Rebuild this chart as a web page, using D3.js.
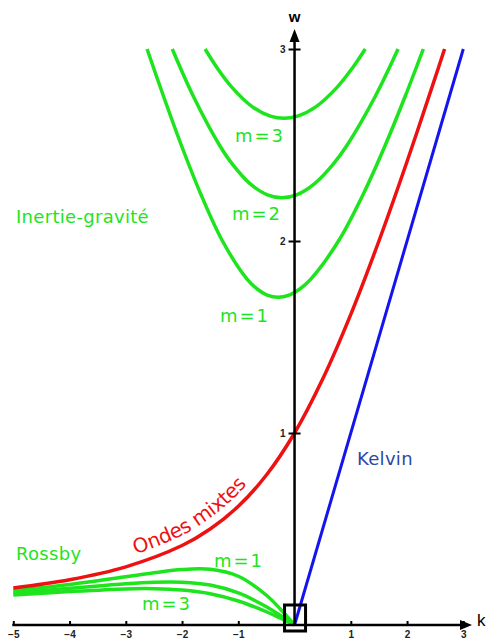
<!DOCTYPE html>
<html>
<head>
<meta charset="utf-8">
<script src="https://cdn.jsdelivr.net/npm/d3@7"></script>
<style>
  body { margin: 0; background: #fff; }
  .tick text { font-family: "Liberation Sans", Arial, sans-serif; font-weight: bold; font-size: 10px; fill: #222; }
  .lbl { font-family: "DejaVu Sans", sans-serif; font-size: 18px; }
</style>
</head>
<body>
<div id="chart"></div>
<script>
// values, as [k, w] pairs
let kelvin = [[0, 0], [3, 3]];

let mixed = [[-5, 0.193], [-4, 0.236], [-3, 0.303], [-2, 0.414], [-1.5, 0.5], [-1, 0.618],
    [-0.5, 0.781], [0, 1], [0.5, 1.281], [1, 1.618], [1.5, 2.0], [2, 2.414], [2.5, 2.851], [2.667, 3]];

let gravity1 = [[-2.622, 3], [-2.325, 2.75], [-2.014, 2.5], [-1.675, 2.25], [-1.281, 2.0], [-0.841, 1.8],
    [-0.665, 1.75], [-0.498, 1.72], [-0.293, 1.707], [-0.084, 1.72], [0.094, 1.75], [0.285, 1.8],
    [0.781, 2.0], [1.231, 2.25], [1.614, 2.5], [1.962, 2.75], [2.289, 3]];
let gravity2 = [[-2.174, 3], [-1.793, 2.75], [-1.336, 2.5], [-1.105, 2.4], [-0.798, 2.3], [-0.483, 2.24],
    [-0.225, 2.225], [0.036, 2.24], [0.363, 2.3], [0.688, 2.4], [0.936, 2.5], [1.429, 2.75], [1.84, 3]];
let gravity3 = [[-1.591, 3], [-1.372, 2.9], [-1.112, 2.8], [-0.755, 2.7], [-0.43, 2.65], [-0.19, 2.639],
    [0.052, 2.65], [0.384, 2.7], [0.755, 2.8], [1.027, 2.9], [1.257, 3]];

let rossby1 = [[-5, 0.179], [-4, 0.211], [-3, 0.251], [-2.5, 0.272], [-2, 0.289], [-1.5, 0.29],
    [-1, 0.254], [-0.5, 0.155], [-0.25, 0.082], [0, 0]];
let rossby2 = [[-5, 0.167], [-4, 0.191], [-3, 0.215], [-2.5, 0.223], [-2, 0.223], [-1.5, 0.208],
    [-1, 0.167], [-0.5, 0.095], [-0.25, 0.049], [0, 0]];
let rossby3 = [[-5, 0.156], [-4, 0.174], [-3, 0.188], [-2.5, 0.189], [-2, 0.182], [-1.5, 0.163],
    [-1, 0.125], [-0.5, 0.069], [-0.25, 0.035], [0, 0]];

let xTicks = [-5, -4, -3, -2, -1, 1, 2, 3];
let yTicks = [1, 2, 3];

let width = 489, height = 641;
let green = "#1ee41e", red = "#ee1111", blue = "#1414ee";

let x = d3.scaleLinear().domain([-5, 3]).range([13.3, 463.3]);
let y = d3.scaleLinear().domain([0, 3]).range([625, 49]);

let svg = d3.select("#chart").append("svg")
    .attr("width", width)
    .attr("height", height);

let line = d3.line()
    .x(function (d) { return x(d[0]); })
    .y(function (d) { return y(d[1]); })
    .curve(d3.curveCatmullRom.alpha(0.5));

// green curves (inertie-gravite + rossby)
[gravity1, gravity2, gravity3, rossby1, rossby2, rossby3].forEach(function (c) {
    svg.append("path").attr("d", line(c))
        .attr("fill", "none").attr("stroke", green).attr("stroke-width", 3.5);
});

let mixedPath = svg.append("path").attr("id", "mixed").attr("d", line(mixed))
    .attr("fill", "none").attr("stroke", red).attr("stroke-width", 3.5);

svg.append("path").attr("d", d3.line().x(d => x(d[0])).y(d => y(d[1]))(kelvin))
    .attr("fill", "none").attr("stroke", blue).attr("stroke-width", 3);

// axes
let xAxis = svg.append("g")
    .attr("transform", "translate(0," + y(0) + ")")
    .call(d3.axisBottom(x).tickValues(xTicks).tickSize(-4).tickPadding(6).tickFormat(d3.format("d")));
xAxis.select(".domain").remove();
xAxis.selectAll("line").attr("stroke", "#000").attr("stroke-width", 2);

let yAxis = svg.append("g")
    .attr("transform", "translate(" + x(0) + ",0)")
    .call(d3.axisLeft(y).tickValues(yTicks).tickSize(6).tickPadding(3).tickFormat(d3.format("d")));
yAxis.select(".domain").remove();
yAxis.selectAll("line").attr("x1", 6).attr("x2", -6).attr("stroke", "#000").attr("stroke-width", 2);

svg.append("line").attr("x1", x(-5) - 1).attr("x2", 462).attr("y1", y(0)).attr("y2", y(0))
    .attr("stroke", "#000").attr("stroke-width", 2.5);
svg.append("path").attr("d", "M472," + y(0) + "L460," + (y(0) - 5) + "L460," + (y(0) + 5) + "Z").attr("fill", "#000");

svg.append("line").attr("x1", x(0)).attr("x2", x(0)).attr("y1", y(0)).attr("y2", 40)
    .attr("stroke", "#000").attr("stroke-width", 2.5);
svg.append("path").attr("d", "M" + x(0) + ",29L" + (x(0) - 5) + ",42L" + (x(0) + 5) + ",42Z").attr("fill", "#000");

svg.append("text").attr("x", x(0)).attr("y", 22).attr("text-anchor", "middle")
    .style("font-family", "Liberation Sans, Arial, sans-serif").style("font-weight", "bold").style("font-size", "15px")
    .text("w");
svg.append("text").attr("x", 477).attr("y", 626)
    .style("font-family", "Liberation Sans, Arial, sans-serif").style("font-size", "17px")
    .text("k");

// small box at the origin
svg.append("rect").attr("x", x(0) - 10).attr("y", y(0) - 20).attr("width", 21).attr("height", 26)
    .attr("fill", "none").attr("stroke", "#000").attr("stroke-width", 3);

// labels
function label(t, px, py, col) {
    return svg.append("text").attr("class", "lbl").attr("x", px).attr("y", py)
        .attr("fill", col).style("letter-spacing", "0.3px").text(t);
}
label("Inertie-gravité", 16, 223, green);
label("m=3", 235, 142, green).style("letter-spacing", "2px");
label("m=2", 232, 220, green).style("letter-spacing", "2px");
label("m=1", 220, 322, green).style("letter-spacing", "2px");
label("Rossby", 16, 560, green);
label("m=1", 214, 567, green).style("letter-spacing", "2px");
label("m=3", 142, 610, green).style("letter-spacing", "2px");
label("Kelvin", 357, 465, "#2a48a8");

// "Ondes mixtes" follows the red curve
let node = mixedPath.node(), total = node.getTotalLength(), start = 0;
for (let l = 0; l < total; l += 1) {
    if (node.getPointAtLength(l).x >= 138) { start = l; break; }
}
svg.append("text").attr("class", "lbl").attr("fill", red).attr("dy", -9).style("font-size", "20px")
    .append("textPath").attr("href", "#mixed").attr("startOffset", start)
    .text("Ondes mixtes");
</script>
</body>
</html>
